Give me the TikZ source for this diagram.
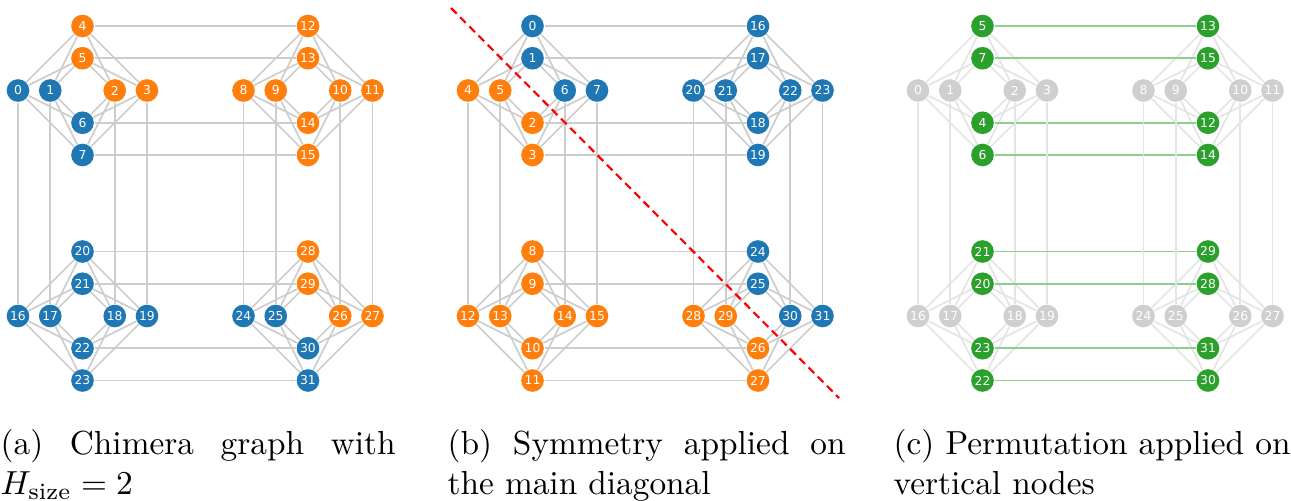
\documentclass[tikz,border=0pt]{standalone}
\usepackage{amsmath}
\usepackage{fontspec}
\usepackage{tikz}
\usetikzlibrary{backgrounds}

\newfontfamily\qubitfont{DejaVu Sans}

\definecolor{qblue}{HTML}{1F77B4}
\definecolor{qorange}{HTML}{FF7F0E}
\definecolor{qgreen}{HTML}{2CA02C}
\definecolor{qgray}{HTML}{CFCFCF}
\definecolor{edgegray}{HTML}{CDCDCD}
\definecolor{fadegray}{HTML}{E4E4E4}
\definecolor{fadegreen}{HTML}{8DCF8D}

\tikzset{
  qubit/.style={circle, fill=#1, text=white, minimum size=6.8pt, inner sep=0pt,
    font={\qubitfont\fontsize{3.7pt}{4pt}\selectfont}},
  coupler/.style={draw=edgegray, line width=0.5pt},
  fadecoupler/.style={draw=fadegray, line width=0.5pt},
  greencoupler/.style={draw=fadegreen, line width=0.55pt},
  subcap/.style={anchor=base west, inner sep=0pt, font=\normalsize},
  diagline/.style={draw=red, line width=0.65pt, dash pattern=on 2.4pt off 1.5pt}
}

% #1 panel, #2 x offset, #3 vertical qubits, #4 horizontal qubits
% #5 couplers, #6 couplers between vertical qubits of two cells
\newcommand{\chimerapanel}[6]{%
  \foreach \lab/\col [count=\k from 0] in {#3} {
    \pgfmathsetmacro{\cx}{#2+82.5+225.5*mod(int(\k/4),2)}
    \pgfmathsetmacro{\cy}{90.5+225.5*int(\k/8)+32.25*(mod(\k,4)-2+(mod(\k,4)>1))}
    \node[qubit=\col] (#1-v\k) at (\cx,\cy) {\lab};
  }
  \foreach \lab/\col [count=\k from 0] in {#4} {
    \pgfmathsetmacro{\cx}{#2+82.5+225.5*mod(int(\k/4),2)+32.25*(mod(\k,4)-2+(mod(\k,4)>1))}
    \pgfmathsetmacro{\cy}{90.5+225.5*int(\k/8)}
    \node[qubit=\col] (#1-h\k) at (\cx,\cy) {\lab};
  }
  \begin{pgfonlayer}{background}
    \foreach \c in {0,...,3} {
      \foreach \s in {0,...,3} {
        \foreach \t in {0,...,3} {
          \pgfmathtruncatemacro{\va}{4*\c+\s}
          \pgfmathtruncatemacro{\hb}{4*\c+\t}
          \draw[#5] (#1-v\va) -- (#1-h\hb);
        }
      }
    }
    \foreach \r in {0,1} {
      \foreach \s in {0,...,3} {
        \pgfmathtruncatemacro{\va}{8*\r+\s}
        \pgfmathtruncatemacro{\vb}{8*\r+4+\s}
        \draw[#6] (#1-v\va) -- (#1-v\vb);
        \pgfmathtruncatemacro{\ha}{4*\r+\s}
        \pgfmathtruncatemacro{\hb}{8+4*\r+\s}
        \draw[#5] (#1-h\ha) -- (#1-h\hb);
      }
    }
  \end{pgfonlayer}
}

\begin{document}
\begin{tikzpicture}[x=0.3pt, y=-0.3pt]
  \useasboundingbox (0,0) rectangle (1291,501);

  % (a) chimera graph
  \chimerapanel{a}{0}
    {4/qorange,5/qorange,6/qblue,7/qblue, 12/qorange,13/qorange,14/qorange,15/qorange,
     20/qblue,21/qblue,22/qblue,23/qblue, 28/qorange,29/qorange,30/qblue,31/qblue}
    {0/qblue,1/qblue,2/qorange,3/qorange, 8/qorange,9/qorange,10/qorange,11/qorange,
     16/qblue,17/qblue,18/qblue,19/qblue, 24/qblue,25/qblue,26/qorange,27/qorange}
    {coupler}{coupler}

  % (b) symmetry on the diagonal
  \chimerapanel{b}{450}
    {0/qblue,1/qblue,2/qorange,3/qorange, 16/qblue,17/qblue,18/qblue,19/qblue,
     8/qorange,9/qorange,10/qorange,11/qorange, 24/qblue,25/qblue,26/qorange,27/qorange}
    {4/qorange,5/qorange,6/qblue,7/qblue, 20/qblue,21/qblue,22/qblue,23/qblue,
     12/qorange,13/qorange,14/qorange,15/qorange, 28/qorange,29/qorange,30/qblue,31/qblue}
    {coupler}{coupler}
  \coordinate (diagtop) at (451,8);
  \coordinate (diagbot) at (839,398);
  \draw[diagline] (diagtop) -- (diagbot);

  % (c) permutation of vertical qubits
  \chimerapanel{c}{900}
    {5/qgreen,7/qgreen,4/qgreen,6/qgreen, 13/qgreen,15/qgreen,12/qgreen,14/qgreen,
     21/qgreen,20/qgreen,23/qgreen,22/qgreen, 29/qgreen,28/qgreen,31/qgreen,30/qgreen}
    {0/qgray,1/qgray,2/qgray,3/qgray, 8/qgray,9/qgray,10/qgray,11/qgray,
     16/qgray,17/qgray,18/qgray,19/qgray, 24/qgray,25/qgray,26/qgray,27/qgray}
    {fadecoupler}{greencoupler}

  % captions
  \node[subcap] (capa1) at (0,454) {\hbox to 118.5pt{(a)\hfill Chimera\hfill graph\hfill with}};
  \node[subcap] (capa2) at (0,494) {$H_{\text{size}} = 2$};
  \node[subcap] (capb1) at (447,454) {\hbox to 119.4pt{(b)\hfill Symmetry\hfill applied\hfill on}};
  \node[subcap] (capb2) at (447,494) {the main diagonal};
  \node[subcap] (capc1) at (893,454) {(c) Permutation applied on};
  \node[subcap] (capc2) at (893,494) {vertical nodes};
\end{tikzpicture}
\end{document}
